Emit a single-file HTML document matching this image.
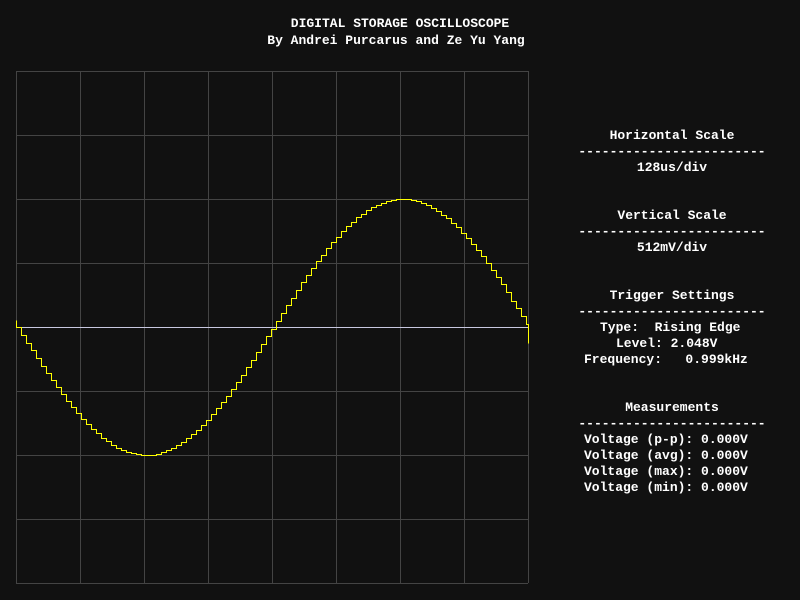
<!DOCTYPE html>
<html><head><meta charset="utf-8"><style>
html,body{margin:0;padding:0;background:#111;}
svg{display:block;}
text{font-family:"Liberation Mono",monospace;font-size:13px;fill:#fff;font-weight:bold;}
</style></head><body>
<svg width="800" height="600" viewBox="0 0 800 600">
<rect x="0" y="0" width="800" height="600" fill="#111"/>
<text x="400" y="27" text-anchor="middle">DIGITAL STORAGE OSCILLOSCOPE</text>
<text x="396" y="44" text-anchor="middle">By Andrei Purcarus and Ze Yu Yang</text>
<g id="grid"></g>
<line x1="16" y1="327.5" x2="528" y2="327.5" stroke="#c8c8e0" stroke-width="1"/>
<path id="trace" fill="none" stroke="#ffff00" stroke-width="1"/>
<g>
<text x="672" y="139" text-anchor="middle">Horizontal Scale</text>
<text x="672" y="155" text-anchor="middle">------------------------</text>
<text x="672" y="171" text-anchor="middle">128us/div</text>
<text x="672" y="219" text-anchor="middle">Vertical Scale</text>
<text x="672" y="235" text-anchor="middle">------------------------</text>
<text x="672" y="251" text-anchor="middle">512mV/div</text>
<text x="672" y="299" text-anchor="middle">Trigger Settings</text>
<text x="672" y="315" text-anchor="middle">------------------------</text>
<text x="600" y="331" xml:space="preserve">Type:  Rising Edge</text>
<text x="616" y="347">Level: 2.048V</text>
<text x="584" y="363" xml:space="preserve">Frequency:   0.999kHz</text>
<text x="672" y="411" text-anchor="middle">Measurements</text>
<text x="672" y="427" text-anchor="middle">------------------------</text>
<text x="584" y="443">Voltage (p-p): 0.000V</text>
<text x="584" y="459">Voltage (avg): 0.000V</text>
<text x="584" y="475">Voltage (max): 0.000V</text>
<text x="584" y="491">Voltage (min): 0.000V</text>
</g>
</svg>
<script>
// sample offsets from trigger level (mV), one sample per 5px step
const samplesMv = [0,-63,-125,-187,-249,-309,-369,-426,-483,-537,-590,-640,-688,-733,-775,-815,-851,-885,-915,-941,-964,-983,-999,-1011,-1019,-1023,-1024,-1020,-1013,-1002,-987,-968,-946,-920,-891,-858,-822,-784,-742,-697,-650,-600,-548,-494,-438,-380,-321,-261,-200,-138,-75,-13,
50,113,175,236,297,357,415,472,527,580,631,679,724,767,806,843,877,908,935,959,980,996,1009,1018,1023,1024,1021,1015,1005,991,974,953,928,900,869,834,797,756,713,667,618,568,514,459,402,343,283,212,150,88,25];
const prevSampleMv = 60;
const mvPerDiv = 512;
const samplePeriodUs = 10;
const usPerDiv = 128;
const divCount = 8;

const X0=16, Y0=71, DIV=64, W=DIV*divCount, CY=Y0+W/2;
function xScale(us){ return X0 + us/usPerDiv*DIV; }
function yScale(mv){ return CY - mv/mvPerDiv*DIV; }

const ns='http://www.w3.org/2000/svg';
const grid=document.getElementById('grid');
for(let i=0;i<=divCount;i++){
  const v=document.createElementNS(ns,'line');
  v.setAttribute('x1',X0+i*DIV+0.5);v.setAttribute('x2',X0+i*DIV+0.5);
  v.setAttribute('y1',Y0);v.setAttribute('y2',Y0+W);
  v.setAttribute('stroke','#444');
  
  
  grid.appendChild(v);
  const h=document.createElementNS(ns,'line');
  h.setAttribute('y1',Y0+i*DIV+0.5);h.setAttribute('y2',Y0+i*DIV+0.5);
  h.setAttribute('x1',X0);h.setAttribute('x2',X0+W);
  h.setAttribute('stroke','#444');
  
  
  grid.appendChild(h);
}
function px(v){ return Math.round(v)+0.5; }
let d='M'+px(xScale(0))+' '+px(yScale(prevSampleMv));
for(let i=0;i<samplesMv.length;i++){
  const x=px(Math.min(xScale(i*samplePeriodUs),X0+W));
  const x2=px(Math.min(xScale((i+1)*samplePeriodUs),X0+W));
  const y=px(yScale(samplesMv[i]));
  d+=' L'+x+' '+y+' L'+x2+' '+y;
}
d+=' L'+px(X0+W)+' '+px(yScale(-125));
document.getElementById('trace').setAttribute('d',d);
</script>
</body></html>
